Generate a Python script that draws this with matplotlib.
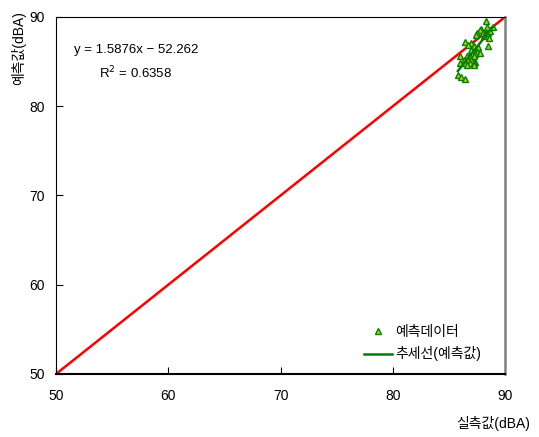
import numpy as np
import matplotlib
matplotlib.use("Agg")
import matplotlib.pyplot as plt

plt.rcParams['font.family'] = ['Liberation Sans', 'Noto Sans CJK KR', 'DejaVu Sans']

# measured (x) vs predicted (y) noise levels, dBA
meas = [88.3, 88.4, 88.9, 87.9, 87.8, 87.5, 88.0, 88.5, 88.7, 87.4, 88.1, 88.6,
        86.4, 87.0, 86.7, 87.2, 88.5, 87.6, 87.0, 87.5, 87.3, 87.8,
        86.0, 86.6, 86.9, 87.2, 86.3, 86.7, 87.0, 87.3, 86.4, 86.9, 87.2,
        86.0, 86.6, 87.2, 85.8, 86.1, 86.4]
pred = [89.6, 88.9, 88.9, 88.7, 88.5, 88.2, 88.2, 88.2, 88.4, 88.0, 87.9, 87.7,
        87.2, 87.1, 86.9, 86.8, 86.8, 86.6, 86.3, 86.1, 85.9, 86.0,
        85.6, 85.6, 85.6, 85.6, 85.2, 85.2, 85.2, 85.0, 84.8, 84.8, 84.8,
        84.8, 84.6, 84.6, 83.5, 83.3, 83.1]
fit_coef = [1.5876, -52.262]
r2 = 0.6358
ref_line = [50, 90]

fig = plt.figure(figsize=(5.39, 4.37), dpi=100)
ax = fig.add_axes([0.1039, 0.1442, 0.8331, 0.8169])

ax.plot(ref_line, ref_line, color='red', lw=1.8, zorder=2)
ax.plot(meas, pred, linestyle='none', marker='^', ms=4.5,
        mfc='#b8d000', mec='green', mew=1.0, label='예측데이터', zorder=3)
xf = np.array([min(meas), max(meas)])
ax.plot(xf, np.polyval(fit_coef, xf), color='green', lw=1.8,
        label='추세선(예측값)', zorder=4)

ax.text(57.1, 86.3, 'y = 1.5876x − 52.262', ha='center', va='center', fontsize=9.5)
ax.text(57.1, 83.7, 'R$^2$ = 0.6358', ha='center', va='center', fontsize=9.5)

ax.set_xlim(50, 90)
ax.set_ylim(50, 90)
ax.set_xticks([50, 60, 70, 80, 90])
ax.set_yticks([50, 60, 70, 80, 90])
ax.tick_params(direction='in', length=5, labelsize=10)
ax.tick_params(axis='x', pad=11)
ax.tick_params(axis='y', pad=8)
for s in ['left', 'bottom', 'top']:
    ax.spines[s].set_color('black')
ax.spines['right'].set_color('#808080')
ax.spines['right'].set_linewidth(1.8)
ax.spines['bottom'].set_linewidth(1.5)

fig.text(0.983, 0.03, '실측값(dBA)', ha='right', va='center', fontsize=10)
fig.text(0.035, 0.975, '예측값(dBA)', ha='center', va='top', rotation=90, fontsize=10)

ax.legend(loc='lower right', bbox_to_anchor=(0.975, 0.0), frameon=False,
          fontsize=10, handlelength=2.0, handletextpad=0.25, labelspacing=0.55)

fig.savefig('out.png', dpi=100)
